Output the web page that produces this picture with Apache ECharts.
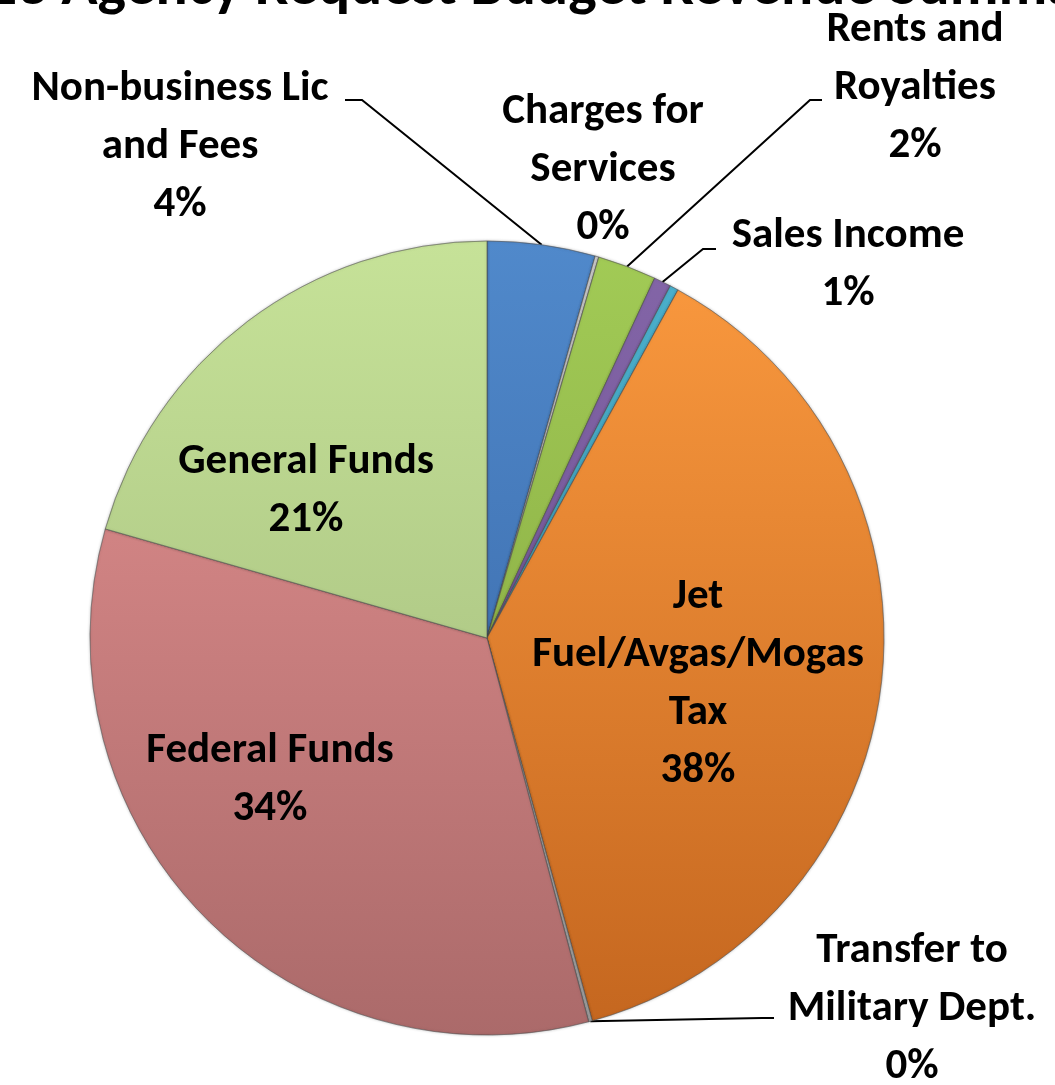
<!DOCTYPE html>
<html lang="en">

<head>
    <meta charset="UTF-8">
    <title>Agency Request Budget Revenue Summary</title>
    <script src="https://cdn.jsdelivr.net/npm/echarts@6/dist/echarts.min.js"></script>
    <style>
        html, body { margin: 0; padding: 0; background: #fff; }
    </style>
</head>

<body>
    <div id="pieChart" style="width: 1055px; height: 1085px;"></div>

    <script>
        // revenue sources, clockwise from 12 o'clock
        var categories = [
            'Non-business Lic and Fees',
            'Charges for Services',
            'Rents and Royalties',
            'Sales Income',
            'Other',
            'Jet Fuel/Avgas/Mogas Tax',
            'Transfer to Military Dept.',
            'Federal Funds',
            'General Funds'
        ];
        // label text as wrapped in the original
        var labelText = [
            'Non-business Lic\nand Fees',
            'Charges for\nServices',
            'Rents and\nRoyalties',
            'Sales Income',
            '',
            'Jet\nFuel/Avgas/Mogas\nTax',
            'Transfer to\nMilitary Dept.',
            'Federal Funds',
            'General Funds'
        ];
        // share of revenue, percent
        var shares = [4.4, 0.15, 2.4, 0.7, 0.35, 37.8, 0.15, 33.6, 20.6];

        var topColors = ['#5089cb', '#cfcfcf', '#a2cb56', '#8466a8', '#4bb0cc', '#fb9a3f', '#c4c4c4', '#e69292', '#c6e298'];
        var bottomColors = ['#3461a0', '#a9a9a9', '#7f9f3c', '#654a8a', '#3a93ad', '#c4661f', '#a0a0a0', '#ab6a6a', '#9db578'];

        // label placement (centre of the text block) and leader line bends
        var labelPos = {
            'Non-business Lic and Fees': { x: 180, y: 147, line: [[362, 100], [345, 100]] },
            'Charges for Services': { x: 603, y: 170 },
            'Rents and Royalties': { x: 915, y: 88, line: [[810, 100], [822, 100]] },
            'Sales Income': { x: 848, y: 265, line: [[703, 249], [716, 249]] },
            'Jet Fuel/Avgas/Mogas Tax': { x: 698, y: 684 },
            'Transfer to Military Dept.': { x: 912, y: 1009, line: [[762, 1018], [774, 1018]] },
            'Federal Funds': { x: 270, y: 780 },
            'General Funds': { x: 306, y: 491 }
        };
        var withLine = ['Non-business Lic and Fees', 'Rents and Royalties', 'Sales Income', 'Transfer to Military Dept.'];

        var chartDom = document.getElementById('pieChart');
        var myChart = echarts.init(chartDom, null, { renderer: 'canvas' });
        var fontFamily = 'Carlito, Lato, sans-serif';

        var data = [];
        for (var i = 0; i < categories.length; i++) {
            data.push({
                name: categories[i],
                value: shares[i],
                itemStyle: {
                    color: {
                        type: 'linear', global: true,
                        x: 0, y: 240, x2: 0, y2: 1036,
                        colorStops: [
                            { offset: 0, color: topColors[i] },
                            { offset: 1, color: bottomColors[i] }
                        ]
                    }
                },
                label: { show: labelText[i] !== '' },
                labelLine: { show: withLine.indexOf(categories[i]) >= 0 }
            });
        }

        var option = {
            backgroundColor: '#ffffff',
            title: {
                text: 'FY13 Agency Request Budget Revenue Summary',
                left: 'center',
                top: -46,
                textStyle: {
                    fontFamily: fontFamily,
                    fontSize: 60,
                    fontWeight: 'bold',
                    color: '#000',
                    overflow: 'none'
                }
            },
            series: [
                {
                    type: 'pie',
                    center: [487, 638],
                    radius: 397,
                    startAngle: 90,
                    clockwise: true,
                    avoidLabelOverlap: false,
                    itemStyle: {
                        borderColor: 'rgba(80,80,80,0.35)',
                        borderWidth: 1,
                        shadowBlur: 3,
                        shadowColor: 'rgba(0,0,0,0.25)'
                    },
                    label: {
                        position: 'outside',
                        color: '#000',
                        fontFamily: fontFamily,
                        fontSize: 43,
                        fontWeight: 'bold',
                        lineHeight: 58,
                        align: 'center',
                        formatter: function (p) {
                            var t = labelText[p.dataIndex];
                            return t + '\n' + Math.round(p.percent) + '%';
                        }
                    },
                    labelLine: {
                        lineStyle: { color: '#000', width: 2 },
                        length: 20,
                        length2: 20
                    },
                    labelLayout: function (params) {
                        var name = categories[params.dataIndex];
                        var pos = labelPos[name];
                        if (!pos) return {};
                        var out = {
                            x: pos.x,
                            y: pos.y,
                            align: 'center',
                            verticalAlign: 'middle'
                        };
                        if (pos.line && params.labelLinePoints) {
                            out.labelLinePoints = [params.labelLinePoints[0]].concat(pos.line);
                        }
                        return out;
                    },
                    data: data
                }
            ]
        };

        option && myChart.setOption(option);
    </script>

</body>

</html>
